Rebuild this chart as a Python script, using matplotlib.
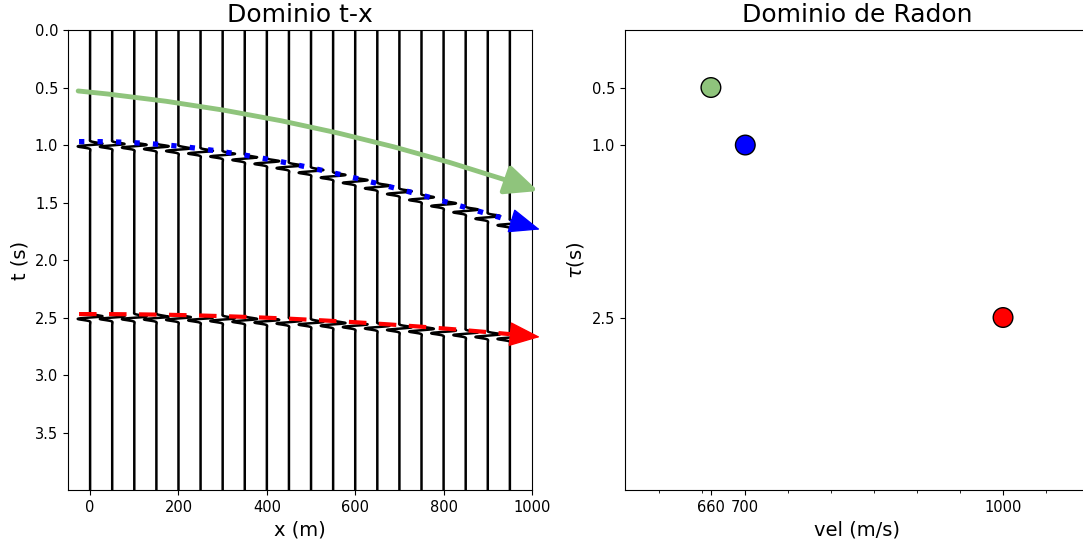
import numpy as np
import matplotlib
matplotlib.use('Agg')
import matplotlib.pyplot as plt
from matplotlib.ticker import MultipleLocator

# === Data ===
offsets = np.arange(0, 1000, 50)          # trace positions x (m)
tau = [0.5, 1.0, 2.5]                     # intercept times (s)
vel = [660, 700, 1000]                    # velocities (m/s)
colors = ['#8fc47c', 'blue', 'red']
has_event = [False, True, True]           # green one has no wiggle event

# green arrow: drawn as an arc between two points
green_start = (-27, 0.53)
green_end = (1014, 1.40)

pick_shift = 0.03      # picked lines sit a bit above the events
line_x0 = -25
line_x1 = 950
arrow_x1 = 1018

t = np.arange(0, 4.0, 0.0005)


def wavelet(tt, f=14, sigma=0.022):
    """Short oscillating pulse, normalised to 1."""
    w = -np.sin(2 * np.pi * f * tt) * np.exp(-(tt / sigma) ** 2)
    return w / np.abs(w).max()


def hyperbola(x, t0, v):
    return np.sqrt(t0 ** 2 + (x / v) ** 2)


fig = plt.figure(figsize=(10.83, 5.45), dpi=100)
ax1 = fig.add_axes([0.0628, 0.1009, 0.4284, 0.844])
ax2 = fig.add_axes([0.5771, 0.1009, 0.4284, 0.844])

# --- t-x domain: wiggle traces ---
amp = 28
for xo in offsets:
    trace = np.zeros_like(t)
    for t0, v, ev in zip(tau, vel, has_event):
        if ev:
            trace += wavelet(t - hyperbola(xo, t0, v))
    ax1.plot(xo + amp * trace, t, color='k', lw=1.8)

# picked events with arrows
styles = {1: (0, (1, 2.5)), 2: (0, (4.2, 3))}
widths = {1: 3.8, 2: 3.0}
for i in (1, 2):
    xs = np.linspace(line_x0, line_x1, 200)
    ts = hyperbola(xs, tau[i], vel[i]) - pick_shift
    ax1.plot(xs, ts, color=colors[i], lw=widths[i], linestyle=styles[i])
    t_end = hyperbola(arrow_x1, tau[i], vel[i]) - pick_shift
    ax1.annotate('', xy=(arrow_x1, t_end), xytext=(xs[-1], ts[-1]),
                 arrowprops=dict(arrowstyle='-|>,head_length=1.0,head_width=0.4',
                                 color=colors[i], lw=1, mutation_scale=20,
                                 shrinkA=0, shrinkB=0),
                 annotation_clip=False)

ax1.annotate('', xy=green_end, xytext=green_start,
             arrowprops=dict(arrowstyle='-|>,head_length=1.0,head_width=0.45',
                             connectionstyle='arc3,rad=-0.06',
                             color=colors[0], lw=3.5, mutation_scale=20,
                             shrinkA=0, shrinkB=0),
             annotation_clip=False)

ax1.set_xlim(-50, 1000)
ax1.set_ylim(4, 0)
ax1.set_yticks(np.arange(0, 4, 0.5))
ax1.set_title("Dominio t-x", fontsize=18)
ax1.set_xlabel("x (m)", fontsize=14)
ax1.set_ylabel("t (s)", fontsize=14)
ax1.tick_params(labelsize=10.5)

# --- Radon domain ---
ax2.scatter(vel, tau, c=colors, s=200, edgecolors='k', linewidths=1, zorder=3)
ax2.set_xlim(560, 1100)
ax2.set_ylim(4, 0)
ax2.set_xticks(vel)
ax2.set_yticks(tau)
ax2.xaxis.set_minor_locator(MultipleLocator(50))
ax2.tick_params(axis='x', which='minor', length=2)
ax2.set_title("Dominio de Radon", fontsize=18)
ax2.set_xlabel("vel (m/s)", fontsize=14)
ax2.set_ylabel(r"$\tau$(s)", fontsize=14)
ax2.tick_params(labelsize=10.5)

fig.savefig("out.png", dpi=100)
